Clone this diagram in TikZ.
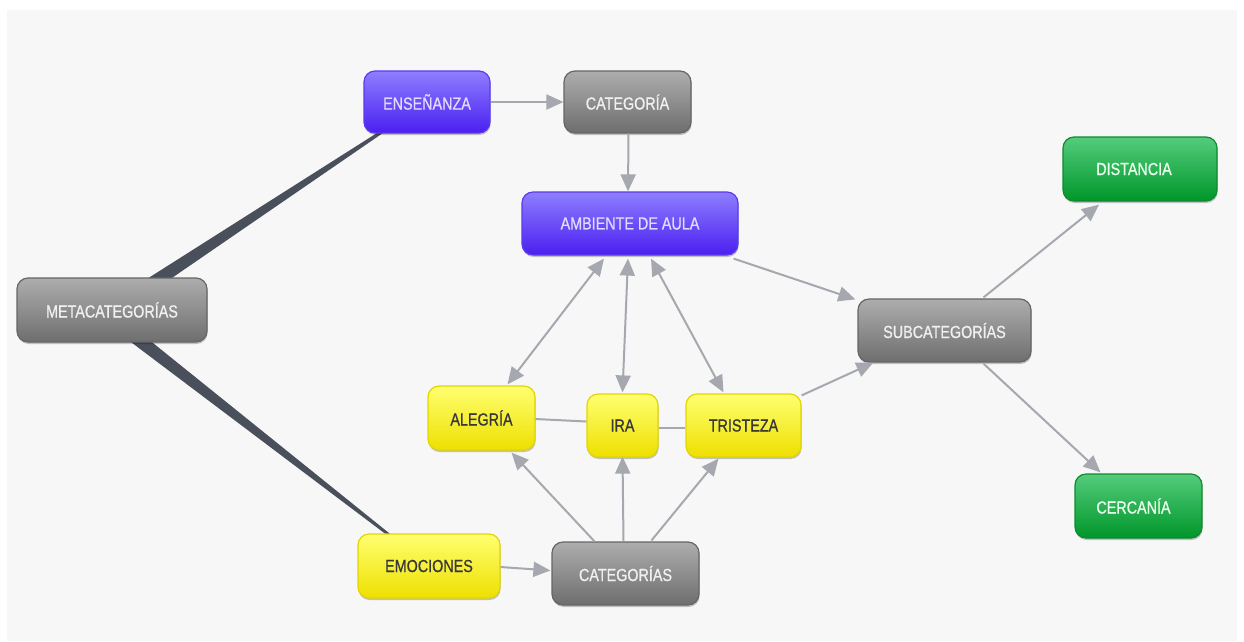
\documentclass[tikz,border=0pt]{standalone}
\usepackage{fontspec}
\newfontfamily\nodefont{Liberation Sans}[FakeStretch=0.82,FakeBold=0.8]
\usetikzlibrary{arrows.meta,calc,shadows}

\definecolor{bgpaper}{HTML}{F7F7F7}
\definecolor{linkgray}{HTML}{A6A8B0}
\definecolor{wedgegray}{HTML}{4A4F5C}

\pgfdeclarelayer{paper}
\pgfdeclarelayer{background}
\pgfsetlayers{paper,background,main}

\tikzset{
  box/.style={rounded corners=11pt, inner sep=0pt, line width=1.2pt,
    font=\nodefont\fontsize{17.5}{20}\selectfont,
    drop shadow={shadow xshift=0.6pt, shadow yshift=-2pt, opacity=0.22, fill=black}},
  graybox/.style={box, draw=black!60, top color=black!32, middle color=black!43,
    bottom color=black!57, text=black!6},
  purplebox/.style={box, draw={rgb,255:red,92;green,58;blue,240}, top color={rgb,255:red,142;green,126;blue,255},
    middle color={rgb,255:red,104;green,74;blue,250}, bottom color={rgb,255:red,74;green,31;blue,240},
    text={rgb,255:red,224;green,220;blue,255}},
  yellowbox/.style={box, draw={rgb,255:red,226;green,214;blue,0}, top color={rgb,255:red,255;green,255;blue,112},
    middle color={rgb,255:red,252;green,246;blue,30}, bottom color={rgb,255:red,238;green,224;blue,0},
    text=black!78},
  greenbox/.style={box, draw={rgb,255:red,12;green,140;blue,45}, top color={rgb,255:red,84;green,204;blue,124},
    middle color={rgb,255:red,26;green,170;blue,70}, bottom color={rgb,255:red,0;green,150;blue,42},
    text={rgb,255:red,232;green,255;blue,236}},
  link/.style={draw=linkgray, line width=2pt},
  arrowlink/.style={link, -{Triangle[length=17pt,width=15pt]}},
  bothlink/.style={link, {Triangle[length=17pt,width=15pt]}-{Triangle[length=17pt,width=15pt]}},
  wedge/.style={fill=wedgegray}
}

\begin{document}
\begin{tikzpicture}[x=1pt,y=-1pt]
  % paper and canvas
  \begin{pgfonlayer}{paper}
    \fill[white] (0,0) rectangle (1244,641);
    \fill[bgpaper] (7,10) rectangle (1237,641);
  \end{pgfonlayer}
  \useasboundingbox (0,0) rectangle (1244,641);

  % concept boxes
  \node[graybox, minimum width=190pt, minimum height=64pt] (meta) at (112,310) {METACATEGORÍAS};
  \node[purplebox, minimum width=126pt, minimum height=62pt] (ens) at (427,102) {ENSEÑANZA};
  \node[graybox, minimum width=127pt, minimum height=62pt] (cat) at (627.5,102) {CATEGORÍA};
  \node[purplebox, minimum width=216pt, minimum height=63pt] (amb) at (630,223.5) {AMBIENTE DE AULA};
  \node[graybox, minimum width=173pt, minimum height=63pt] (sub) at (944.5,330.5) {SUBCATEGORÍAS};
  \node[greenbox, minimum width=154pt, minimum height=64pt] (dist) at (1140,169) {\hspace*{-12pt}DISTANCIA};
  \node[greenbox, minimum width=127pt, minimum height=64pt] (cerc) at (1138.5,506) {\hspace*{-10pt}CERCANÍA};
  \node[yellowbox, minimum width=107pt, minimum height=64pt] (aleg) at (481.5,418) {ALEGRÍA};
  \node[yellowbox, minimum width=71pt, minimum height=63pt] (ira) at (622.5,425.5) {IRA};
  \node[yellowbox, minimum width=115pt, minimum height=63pt] (tris) at (743.5,425.5) {TRISTEZA};
  \node[yellowbox, minimum width=142pt, minimum height=64pt] (emo) at (429,566) {EMOCIONES};
  \node[graybox, minimum width=147pt, minimum height=63pt] (cats) at (625.5,573.5) {CATEGORÍAS};

  % tapered links from the root, drawn underneath the boxes
  \coordinate (mA) at (meta.center);
  \coordinate (mB) at ($(meta.center)+(0,9)$);
  \coordinate (eA) at (ens.center);
  \coordinate (eB) at (emo.center);
  \begin{pgfonlayer}{background}
    \fill[wedge] ($(mA)!7.5pt!90:(eA)$) -- ($(eA)!0.6pt!-90:(mA)$)
      -- ($(eA)!0.6pt!90:(mA)$) -- ($(mA)!7.5pt!-90:(eA)$) -- cycle;
    \fill[wedge] ($(mB)!7pt!90:(eB)$) -- ($(eB)!0.6pt!-90:(mB)$)
      -- ($(eB)!0.6pt!90:(mB)$) -- ($(mB)!7pt!-90:(eB)$) -- cycle;
  \end{pgfonlayer}

  % connectors
  \draw[arrowlink] (ens.east) -- (cat.west);
  \draw[arrowlink] ($(cat.south)+(1,0)$) -- ($(amb.north)+(-2,0)$);
  \draw[arrowlink] ($(amb.south east)+(-5,3)$) -- ($(sub.north west)+(-2,1)$);
  \draw[bothlink] ($(amb.south)+(-26,3)$) -- ($(aleg.north)+(26,-1)$);
  \draw[bothlink] ($(amb.south)+(-2,3)$) -- ($(ira.north)+(0,-1)$);
  \draw[bothlink] ($(amb.south)+(21,3)$) -- ($(tris.north)+(-20,-1)$);
  \draw[link] ($(aleg.east)+(0,1)$) -- ($(ira.west)+(0,-4)$);
  \draw[link] ($(ira.east)+(0,2)$) -- ($(tris.west)+(0,2)$);
  \draw[arrowlink] ($(tris.north east)+(0,2)$) -- ($(sub.south west)+(16,0)$);
  \draw[arrowlink] ($(sub.north)+(39,-1)$) -- ($(dist.south)+(-41,3)$);
  \draw[arrowlink] ($(sub.south)+(39,1)$) -- ($(cerc.north)+(-38,-1)$);
  \draw[arrowlink] ($(emo.east)+(0,1)$) -- ($(cats.west)+(-1,-3)$);
  \draw[arrowlink] ($(cats.north)+(-31,0)$) -- ($(aleg.south)+(30,2)$);
  \draw[arrowlink] ($(cats.north)+(-2,0)$) -- ($(ira.south)+(0,-1)$);
  \draw[arrowlink] ($(cats.north)+(26,-1)$) -- ($(tris.south)+(-25,1)$);
\end{tikzpicture}
\end{document}
